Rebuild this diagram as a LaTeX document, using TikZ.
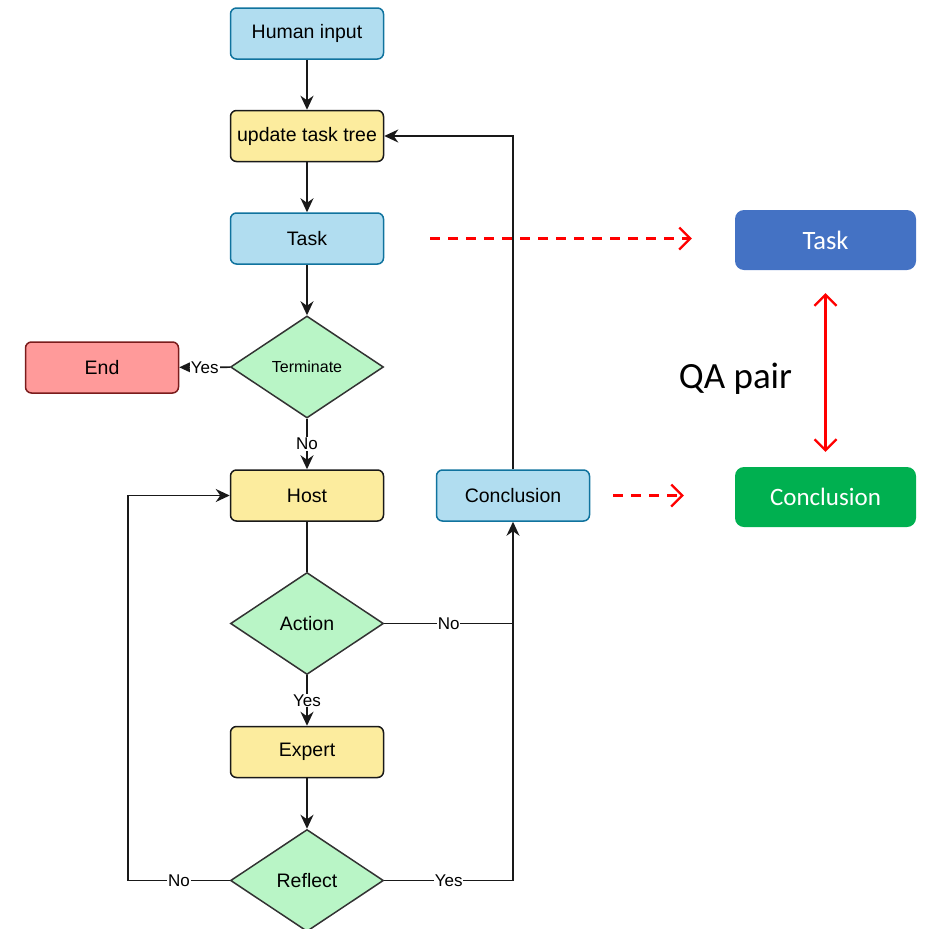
\documentclass[tikz,border=0pt]{standalone}
\usepackage{fontspec}
\setmainfont{Liberation Sans}
\newfontfamily\calibri{Carlito}
\usetikzlibrary{shapes.geometric,arrows.meta,calc}
\definecolor{bluefill}{HTML}{B1DDF0}
\definecolor{bluedraw}{HTML}{10739E}
\definecolor{yelfill}{HTML}{FCEC9E}
\definecolor{greenfill}{HTML}{B9F5C6}
\definecolor{redfill}{HTML}{FF9A9A}
\definecolor{reddraw}{HTML}{7A1C1C}
\definecolor{qblue}{HTML}{4472C4}
\definecolor{qgreen}{HTML}{00B050}
\tikzset{redbarb/.tip={Straight Barb[length=11pt,width=22pt,line width=2.2pt]}}
\begin{document}
\begin{tikzpicture}[x=1pt,y=-1pt,
  box/.style={rectangle, rounded corners=6pt, minimum width=153pt, minimum height=51pt,
    inner sep=0pt, line width=1.5pt, font=\fontsize{19.5}{23}\selectfont},
  bluebox/.style={box, fill=bluefill, draw=bluedraw},
  yelbox/.style={box, fill=yelfill, draw=black!90},
  endbox/.style={box, fill=redfill, draw=reddraw},
  decision/.style={diamond, aspect=1.5, minimum width=153pt, minimum height=102pt,
    inner sep=0pt, fill=greenfill, draw=black!80, line width=1.5pt,
    font=\fontsize{19.5}{23}\selectfont},
  qbox/.style={rectangle, rounded corners=9pt, minimum width=181pt, minimum height=60pt,
    inner sep=0pt, text=white, font=\calibri\fontsize{25}{30}\selectfont},
  flow/.style={line width=1.6pt, draw=black!90},
  arr/.style={flow, -{Stealth[length=14pt,width=13pt,inset=4.5pt]}},
  lbl/.style={fill=white, inner sep=1pt, font=\fontsize{17}{20}\selectfont},
  reddash/.style={red, line width=2.2pt, dash pattern=on 10pt off 8pt, -redbarb},
  redboth/.style={red, line width=2.2pt, redbarb-redbarb}
]
\useasboundingbox (0,0) rectangle (925,929);

% main flow
\node[bluebox] (human) at (307,33.5) {Human input};
\node[yelbox] (update) at (307,136) {update task tree};
\node[bluebox] (task) at (307,238.5) {Task};
\node[decision, font=\fontsize{16}{19}\selectfont] (term) at (307,367) {Terminate};
\node[endbox] (end) at (102,367.5) {End};
\node[yelbox] (host) at (307,495.5) {Host};
\node[decision] (action) at (307,623.5) {Action};
\node[yelbox] (expert) at (307,752) {Expert};
\node[decision] (reflect) at (307,880.5) {Reflect};
\node[bluebox] (concl) at (513,495.5) {Conclusion};

% bends of the loops
\coordinate (loopL) at (128,880.5);
\coordinate (loopR) at (513,880.5);
\coordinate (joinA) at (513,623.5);

\draw[arr] (human) -- (update);
\draw[arr] (update) -- (task);
\draw[arr] (task) -- (term);
\draw[arr] (term) -- node[lbl]{Yes} (end);
\draw[arr] (term) -- node[lbl]{No} (host);
\draw[flow] (host) -- (action);
\draw[arr] (action) -- node[lbl]{Yes} (expert);
\draw[arr] (expert) -- (reflect);
\draw[arr] (reflect.west) -- node[lbl]{No} (loopL) |- (host.west);
\draw[arr] (reflect.east) -- node[lbl]{Yes} (loopR) -- (concl.south);
\draw[flow] (action.east) -- node[lbl]{No} (joinA);
\draw[arr] (concl.north) |- (update.east);

% QA pair
\node[qbox, fill=qblue, font=\calibri\fontsize{26.5}{31}\selectfont] (qtask) at (825.5,240) {Task};
\node[qbox, fill=qgreen] (qconcl) at (825.5,497) {Conclusion};
\node[font=\calibri\fontsize{37}{44}\selectfont] (qa) at (735.5,379) {QA pair};

\draw[reddash] ($(task.east)+(46,0)$) -- ($(qtask.west |- task.east)+(-43,0)$);
\draw[reddash] ($(concl.east)+(23,0)$) -- ($(qconcl.west |- concl.east)+(-51,0)$);
\draw[redboth] ($(qtask.south)+(0,23)$) -- ($(qconcl.north)+(0,-15)$);
\end{tikzpicture}
\end{document}
